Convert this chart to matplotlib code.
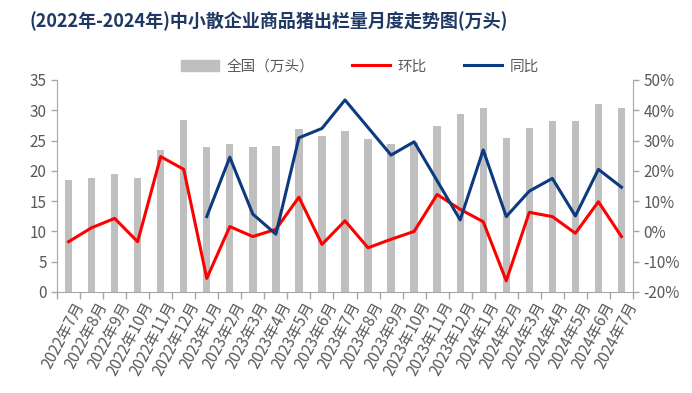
import matplotlib
matplotlib.use("Agg")
import matplotlib.pyplot as plt
from matplotlib.patches import Patch
from matplotlib.lines import Line2D
import numpy as np

plt.rcParams['font.family'] = ['Noto Sans CJK SC', 'DejaVu Sans']

categories = ["2022年7月", "2022年8月", "2022年9月", "2022年10月", "2022年11月", "2022年12月",
              "2023年1月", "2023年2月", "2023年3月", "2023年4月", "2023年5月", "2023年6月",
              "2023年7月", "2023年8月", "2023年9月", "2023年10月", "2023年11月", "2023年12月",
              "2024年1月", "2024年2月", "2024年3月", "2024年4月", "2024年5月", "2024年6月",
              "2024年7月"]
national = [18.5, 18.8, 19.5, 18.9, 23.5, 28.4, 24.0, 24.4, 23.9, 24.1, 26.9, 25.7,
            26.6, 25.2, 24.4, 24.8, 27.4, 29.4, 30.4, 25.4, 27.0, 28.3, 28.2, 31.0, 30.4]
mom = [-3.4, 1.2, 4.3, -3.4, 24.7, 20.5, -15.5, 1.6, -1.7, 0.7, 11.3, -4.3,
       3.5, -5.4, -2.6, 0.0, 12.2, 7.3, 3.2, -16.3, 6.3, 4.9, -0.6, 9.8, -1.7]
yoy = [None] * 6 + [4.9, 24.5, 5.7, -0.9, 30.9, 34.0, 43.4, 34.3, 25.2, 29.6,
                    16.7, 3.8, 26.9, 4.9, 13.3, 17.5, 5.1, 20.5, 14.6]

title = "(2022年-2024年)中小散企业商品猪出栏量月度走势图(万头)"
legend_labels = ["全国（万头）", "环比", "同比"]

gray_txt = "#595959"
axis_col = "#a6a6a6"
bar_col = "#bfbfbf"
red = "#ff0000"
blue = "#0b3a7e"

fig = plt.figure(figsize=(6.92, 3.93), dpi=100)
ax = fig.add_axes([0.0824, 0.257, 0.8323, 0.5395])
ax2 = ax.twinx()

x = np.arange(len(categories))
ax.bar(x, national, width=0.32, color=bar_col, zorder=1)
ax.set_ylim(0, 35)
ax.set_yticks(np.arange(0, 36, 5))
ax.set_xlim(-0.5, len(categories) - 0.5)

ax2.plot(x, mom, color=red, lw=2.2, zorder=3)
yoy_arr = np.array([np.nan if v is None else v for v in yoy], dtype=float)
ax2.plot(x, yoy_arr, color=blue, lw=2.2, zorder=3)
ax2.set_ylim(-20, 50)
ax2.set_yticks(np.arange(-20, 51, 10))
ax2.set_yticklabels([f"{v}%" for v in range(-20, 51, 10)])

ax.set_zorder(ax2.get_zorder() - 1)
ax.patch.set_visible(True)
ax2.patch.set_visible(False)

for a in (ax, ax2):
    a.spines["top"].set_visible(False)
    a.tick_params(colors=gray_txt, labelsize=11, length=4, width=1, color=axis_col)
ax.spines["right"].set_visible(False)
ax.spines["left"].set_color(axis_col)
ax.spines["bottom"].set_color(axis_col)
ax2.spines["left"].set_visible(False)
ax2.spines["bottom"].set_visible(False)
ax2.spines["right"].set_color(axis_col)

# category boundary ticks on x
ax.set_xticks(np.arange(-0.5, len(categories), 1.0), minor=False)
ax.set_xticklabels([])
ax.set_xticks(x + 0.2, minor=True)
ax.set_xticklabels(categories, minor=True, rotation=62, ha="right", va="top",
                   rotation_mode="anchor", fontsize=11, color=gray_txt)
ax.tick_params(axis="x", which="minor", length=0, pad=5)
ax.tick_params(axis="x", which="major", length=5, color=axis_col)

fig.text(0.043, 0.945, title, fontsize=13, fontweight="bold", color="#1f3864",
         ha="left", va="center")

handles = [Patch(color=bar_col), Line2D([], [], color=red, lw=2.2),
           Line2D([], [], color=blue, lw=2.2)]
fig.legend(handles, legend_labels, loc="center", bbox_to_anchor=(0.52, 0.83), ncol=3,
           frameon=False, fontsize=10.5, labelcolor=gray_txt, handlelength=2.6,
           handleheight=0.8, columnspacing=2.6, handletextpad=0.5)

fig.savefig("out.png", dpi=100)
